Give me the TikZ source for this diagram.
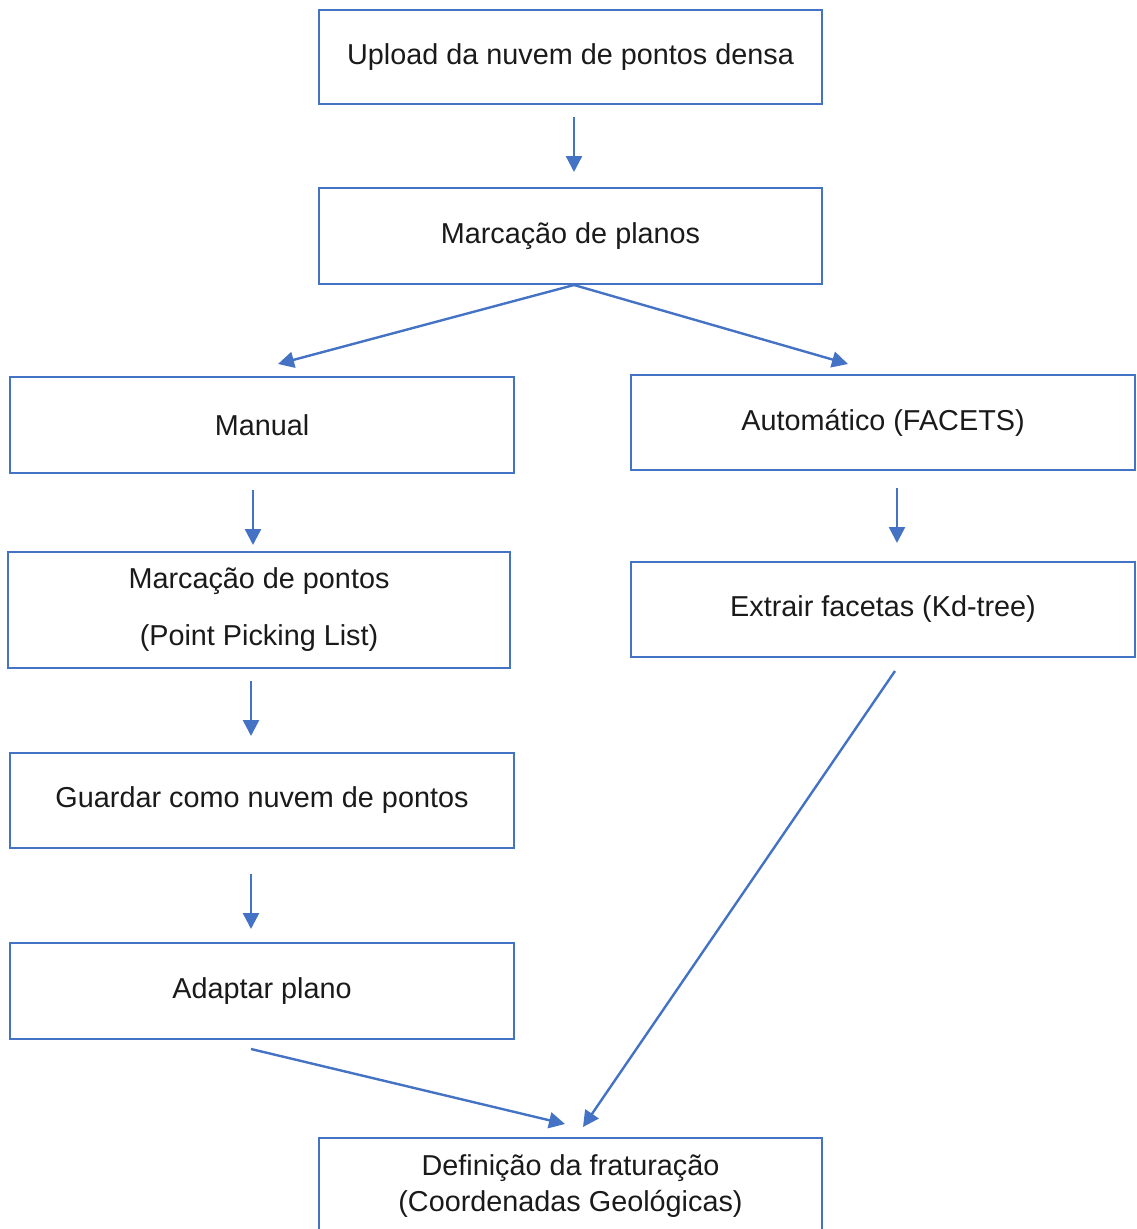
\documentclass[tikz,border=0pt]{standalone}
\usepackage{fontspec}
\setmainfont{Liberation Sans}
\usetikzlibrary{arrows.meta}
\definecolor{bl}{HTML}{4472C4}
\definecolor{txt}{HTML}{1A1A1A}
\begin{document}
\begin{tikzpicture}[x=1pt,y=-1pt,
  box/.style={draw=bl, line width=2pt, minimum width=503pt, minimum height=96pt, inner sep=0pt, align=center, text=txt, font=\fontsize{28.8}{36}\selectfont},
  arr/.style={draw=bl, line width=2.4pt, -{Triangle[length=16pt,width=16pt]}}]
\useasboundingbox (0,0) rectangle (1136,1229);
\clip (0,0) rectangle (1136,1229);
\node[box, minimum height=94pt] (up) at (570.5,57) {Upload da nuvem de pontos densa};
\node[box] (mp) at (570.5,236) {Marcação de planos};
\node[box, minimum width=504pt] (man) at (262,425) {Manual};
\node[box, minimum width=504pt, minimum height=95pt] (aut) at (883,422.5) {Automático (FACETS)};
\node[box, minimum width=502pt, minimum height=116pt] (pts) at (259,610) {Marcação de pontos\\[21pt](Point Picking List)};
\node[box, minimum width=504pt, minimum height=95pt] (ext) at (883,609.5) {Extrair facetas (Kd-tree)};
\node[box, minimum width=504pt, minimum height=95pt] (gua) at (262,800.5) {Guardar como nuvem de pontos};
\node[box, minimum width=504pt] (ada) at (262,991) {Adaptar plano};
\node[box] (def) at (570.5,1186) {Definição da fraturação\\(Coordenadas Geológicas)};

\draw[arr] ([shift={(3.5,12)}]up.south) -- ([shift={(3.5,-15)}]mp.north);
\draw[arr] ([shift={(3.5,0)}]mp.south) -- ([shift={(16,-12)}]man.north);
\draw[arr] ([shift={(3.5,0)}]mp.south) -- ([shift={(-35,-10)}]aut.north);
\draw[arr] ([shift={(-9,16)}]man.south) -- ([shift={(-6,-6)}]pts.north);
\draw[arr] ([shift={(14,17)}]aut.south) -- ([shift={(14,-18)}]ext.north);
\draw[arr] ([shift={(-8,12)}]pts.south) -- ([shift={(-11,-16)}]gua.north);
\draw[arr] ([shift={(-11,25)}]gua.south) -- ([shift={(-11,-13)}]ada.north);
\draw[arr] ([shift={(-11,9)}]ada.south) -- ([shift={(-5.5,-13)}]def.north);
\draw[arr] ([shift={(12,13)}]ext.south) -- ([shift={(12.5,-10)}]def.north);
\end{tikzpicture}
\end{document}
